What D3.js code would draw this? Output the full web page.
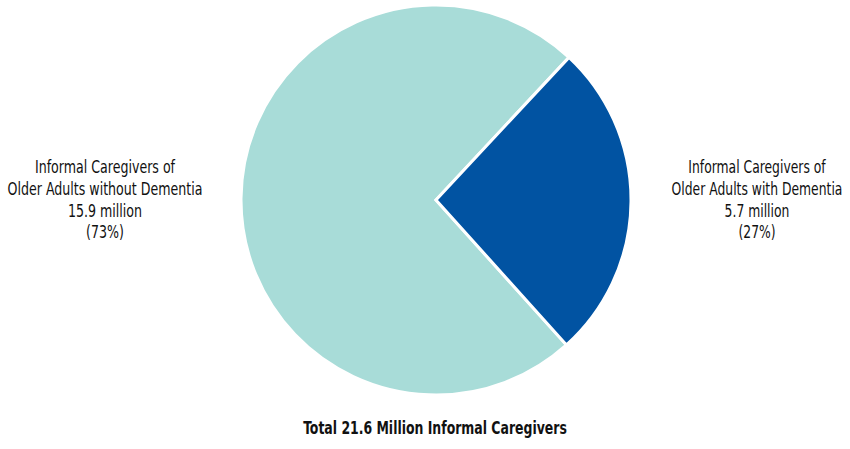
<!DOCTYPE html>
<html><head><meta charset="utf-8">
<script src="https://cdn.jsdelivr.net/npm/d3@7"></script>
<style>body{margin:0;background:#fff}svg{display:block}</style>
</head><body>
<svg id="c" width="850" height="449"></svg>
<script>
const categories = ["Informal Caregivers of Older Adults without Dementia", "Informal Caregivers of Older Adults with Dementia"];
const values = [15.9, 5.7];
const percents = ["(73%)", "(27%)"];
const labelLines = [
  ["Informal Caregivers of", "Older Adults without Dementia", "15.9 million", "(73%)"],
  ["Informal Caregivers of", "Older Adults with Dementia", "5.7 million", "(27%)"]
];
const title = "Total 21.6 Million Informal Caregivers";
const colors = ["#a8dcd8", "#0153a2"];

const svg = d3.select("#c");
const cx = 436, cy = 200, r = 195;
const deg = Math.PI / 180;
const pie = d3.pie().sort(null).value(d => d)
  .startAngle(138 * deg).endAngle((138 + 360) * deg);
const arc = d3.arc().innerRadius(0).outerRadius(r);
const g = svg.append("g").attr("transform", `translate(${cx},${cy})`);
g.selectAll("path").data(pie(values)).join("path")
  .attr("d", arc).attr("fill", (d, i) => colors[i])
  .attr("stroke", "#fff").attr("stroke-width", 3).attr("stroke-linejoin", "miter");

const font = "'DejaVu Sans Condensed','DejaVu Sans',sans-serif";
function fit(sel, cxp, targetW) {
  const w = sel.node().getBBox().width;
  const k = targetW / w;
  sel.attr("transform", `translate(${cxp},0) scale(${k},1)`);
}
const labelPos = [[105, 173], [757, 173]];
const labelW = [195, 171];
labelLines.forEach((lines, i) => {
  const t = svg.append("text").attr("text-anchor", "middle")
    .attr("font-family", font).attr("font-stretch", "condensed")
    .attr("font-size", 18).attr("fill", "#111");
  lines.forEach((s, j) => t.append("tspan").attr("x", 0)
    .attr("y", labelPos[i][1] + j * 21.8).text(s));
  fit(t, labelPos[i][0], labelW[i]);
});
const tt = svg.append("text").attr("x", 0).attr("y", 434).attr("text-anchor", "middle")
  .attr("font-family", font).attr("font-stretch", "condensed")
  .attr("font-size", 18).attr("font-weight", "bold")
  .attr("fill", "#111").text(title);
fit(tt, 435, 264);
</script>
</body></html>
